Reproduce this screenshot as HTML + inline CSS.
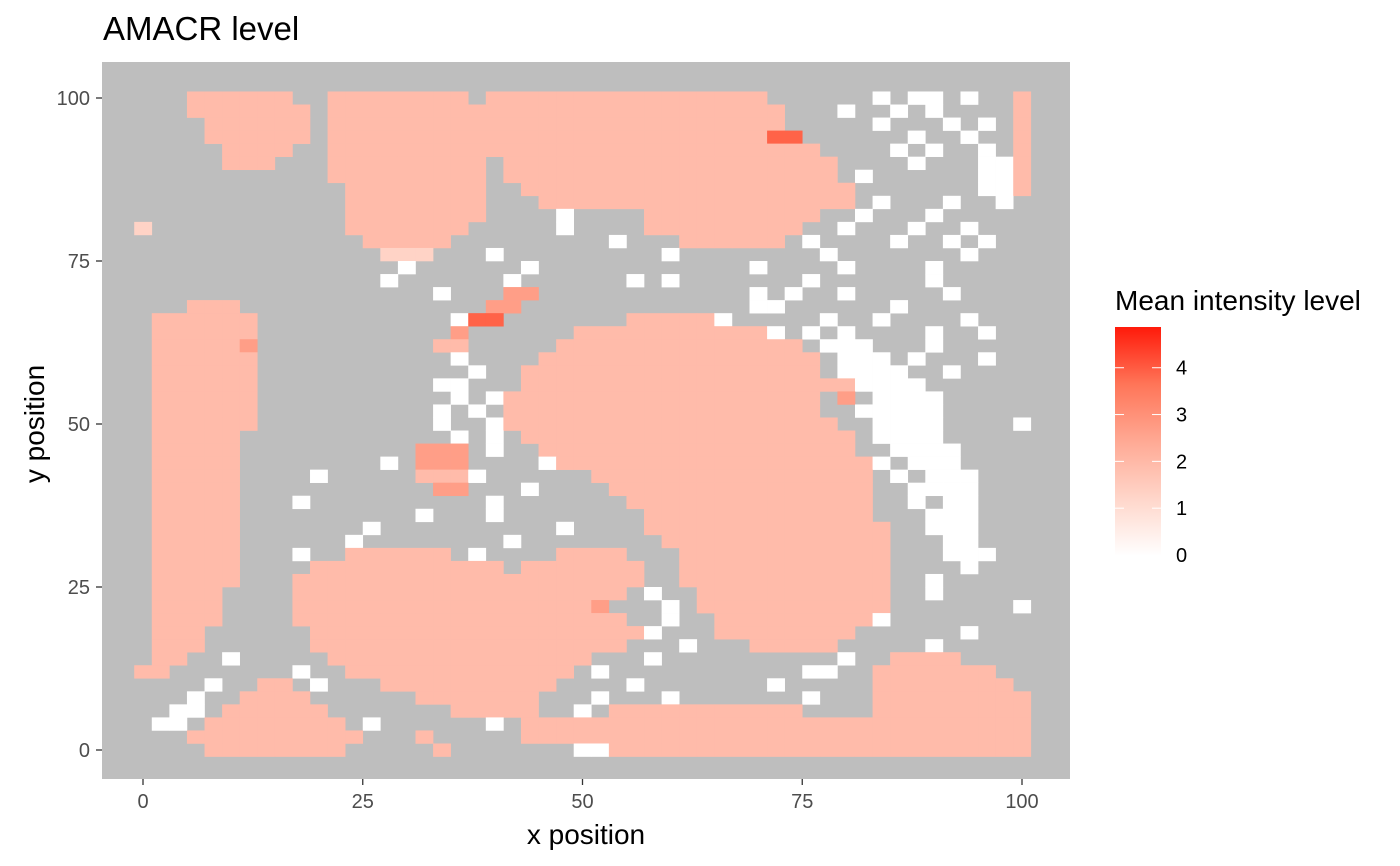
<!DOCTYPE html>
<html><head><meta charset="utf-8"><style>
body{margin:0;background:#fff;}
svg{display:block;font-family:"Liberation Sans",sans-serif;}
</style></head><body>
<svg id="chart" width="1400" height="866">
<defs>
<linearGradient id="lg" x1="0" y1="1" x2="0" y2="0">
<stop offset="0" stop-color="#FFFFFF"/><stop offset="0.25" stop-color="#FFD6CA"/>
<stop offset="0.5" stop-color="#FFA994"/><stop offset="0.75" stop-color="#FF7558"/>
<stop offset="1" stop-color="#FF1A0A"/></linearGradient>
</defs>
<text x="103" y="40" font-size="33" fill="#000">AMACR level</text>
<rect x="102" y="62" width="968" height="717" fill="#BEBEBE"/>
<g id="cells"></g>
<g id="axes"></g>
<text x="586" y="844" font-size="28" text-anchor="middle">x position</text>
<text transform="translate(44,424) rotate(-90)" font-size="28" text-anchor="middle">y position</text>
<text x="1115" y="310" font-size="28">Mean intensity level</text>
<rect x="1115" y="327" width="46" height="229" fill="url(#lg)"/>
<g id="legend"></g>
</svg>
<script>
const xTicks=[0,25,50,75,100];
const yTicks=[0,25,50,75,100];
const legendTicks=[0,1,2,3,4];
const valueCodes={a:1.3,b:1.95,c:2.7,d:3.9,w:0};
const rowYs=[100,98,96,94,92,90,88,86,84,82,80,78,76,74,72,70,68,66,64,62,60,58,56,54,52,50,48,46,44,42,40,38,36,34,32,30,28,26,24,22,20,18,16,14,12,10,8,6,4,2,0];
const rowSpecs=[
"3-8b,11-18b,20-35b,42w,44-45w,47w,50b",
"3-9b,11-19b,20-36b,40w,43w,45w,50b",
"4-9b,11-19b,20-36b,42w,46w,48w,50b",
"4-9b,11-19b,20-35b,36-37d,44w,47w,50b",
"5-8b,11-19b,20-38b,43w,45w,48w,50b",
"5-7b,11-19b,21-39b,44w,48-49w,50b",
"11-19b,21-39b,41w,48-49w,50b",
"12-19b,22-40b,48-49w,50b",
"12-19b,23-40b,42w,46w,49w",
"12-19b,24w,29-38b,41w,45w",
"0a,12-18b,24w,29-37b,40w,44w,47w",
"13-17b,27w,31-36b,38w,43w,46w,48w",
"14-16a,20w,30w,39w,47w",
"15w,22w,35w,40w,45w",
"14w,21w,28w,30w,38w,45w",
"17w,21-22c,35w,37w,40w,46w",
"3-5b,20-21c,35-36w,43w",
"1-6b,18w,19-20d,28-32b,33w,39w,42w,47w",
"1-6b,18c,25-35b,36w,38w,40w,45w,48w",
"1-5b,6c,17-18b,24-37b,39-41w,45w",
"1-6b,18w,23-38b,40-42w,44w,48w",
"1-6b,19w,22-38b,40-43w,46w",
"1-6b,17-18w,22-38b,39-40b,41-44w",
"1-6b,18w,20w,21-38b,40c,42-45w",
"1-6b,17w,19w,21-38b,41-45w",
"1-6b,17w,20w,21-39b,42-45w,50w",
"1-5b,18w,20w,22-40b,42-45w",
"1-5b,16-18c,20w,23-40b,43-46w",
"1-5b,14w,16-18c,23w,24-41b,42w,44-46w",
"1-5b,10w,16-18b,19w,26-41b,43w,45-47w",
"1-5b,17-18c,22w,27-41b,44-47w",
"1-5b,9w,20w,28-41b,44w,46-47w",
"1-5b,16w,20w,29-41b,45-47w",
"1-5b,13w,24w,29-42b,45-47w",
"1-5b,12w,21w,30-42b,46-47w",
"1-5b,9w,12-17b,19w,24-27b,31-42b,46-48w",
"1-5b,10-20b,22-28b,31-42b,47w",
"1-5b,9-28b,31-42b,45w",
"1-4b,9-27b,29w,32-42b,45w",
"1-4b,9-25b,26c,30w,32-42b,50w",
"1-4b,9-27b,30w,33-41b,42w",
"1-3b,10-28b,29w,33-40b,47w",
"1-3b,10-27b,31w,35-39b,45w",
"1-2b,5w,11-25b,29w,40w,43-46b",
"0-1b,9w,12-24b,26w,38-39w,42-48b",
"4w,7-8b,10w,14-23b,28w,36w,42-49b",
"3w,6-9b,16-22b,26w,30w,38w,42-50b",
"2-3w,5-10b,18-22b,25w,27-37b,42-50b",
"1-2w,4-11b,13w,20w,22-50b",
"3-12b,16b,22-50b",
"4-11b,17b,25-26w,27-50b"
];
const NS="http://www.w3.org/2000/svg";
const sx=v=>143+v*8.79, sy=v=>750-v*6.52;
const vmax=4.87;
const stops=[[0,[255,255,255]],[0.25,[255,214,202]],[0.5,[255,169,148]],[0.75,[255,117,88]],[1,[255,26,10]]];
function color(v){let t=Math.max(0,Math.min(1,v/vmax));for(let i=1;i<stops.length;i++){if(t<=stops[i][0]){const a=stops[i-1],b=stops[i],f=(t-a[0])/(b[0]-a[0]);return `rgb(${a[1].map((c,k)=>Math.round(c+(b[1][k]-c)*f)).join(",")})`;}}return "rgb(255,26,10)";}
const cells=document.getElementById("cells");
rowSpecs.forEach((spec,ri)=>{
 const y=rowYs[ri];
 spec.split(",").forEach(seg=>{
  const code=seg.slice(-1), rng=seg.slice(0,-1).split("-").map(Number);
  const c0=rng[0], c1=rng.length>1?rng[1]:rng[0];
  for(let c=c0;c<=c1;c++){
   const x=c*2, v=valueCodes[code];
   const r=document.createElementNS(NS,"rect");
   r.setAttribute("x",sx(x-1));r.setAttribute("y",sy(y+1));
   r.setAttribute("width",sx(x+1)-sx(x-1)+0.3);r.setAttribute("height",sy(y-1)-sy(y+1)+0.3);
   r.setAttribute("fill",color(v));
   
   
   cells.appendChild(r);
  }
 });
});
const axes=document.getElementById("axes");
function add(parent,tag,attrs,text){const e=document.createElementNS(NS,tag);for(const k in attrs)e.setAttribute(k,attrs[k]);if(text!==undefined)e.textContent=text;parent.appendChild(e);return e;}
xTicks.forEach(t=>{
 add(axes,"line",{x1:sx(t),x2:sx(t),y1:779,y2:785,stroke:"#333","stroke-width":1.3});
 const tx=add(axes,"text",{x:sx(t),y:808,"font-size":20,fill:"#4D4D4D","text-anchor":"middle"},String(t));
 
 
});
yTicks.forEach(t=>{
 add(axes,"line",{x1:96,x2:102,y1:sy(t),y2:sy(t),stroke:"#333","stroke-width":1.3});
 const ty=add(axes,"text",{x:90,y:sy(t)+7,"font-size":20,fill:"#4D4D4D","text-anchor":"end"},String(t));
 
 
});
const legend=document.getElementById("legend");
const ly=v=>555-v*(228/vmax);
legendTicks.forEach(t=>{
 add(legend,"line",{x1:1115,x2:1124,y1:ly(t),y2:ly(t),stroke:"#fff","stroke-width":1});
 add(legend,"line",{x1:1152,x2:1161,y1:ly(t),y2:ly(t),stroke:"#fff","stroke-width":1});
 const lt=add(legend,"text",{x:1176,y:ly(t)+7,"font-size":20,fill:"#000"},String(t));
 
 
});
</script>
</body></html>
